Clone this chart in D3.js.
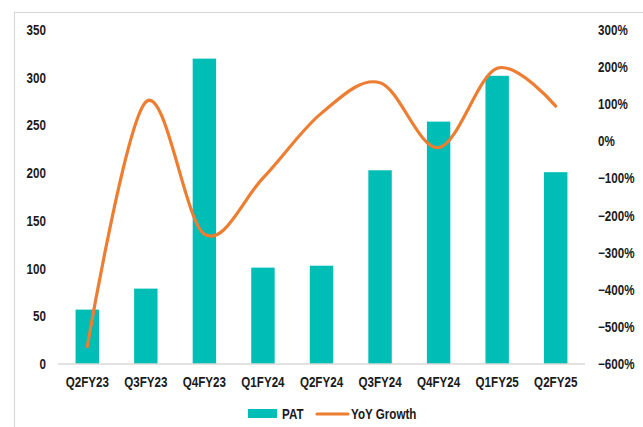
<!DOCTYPE html>
<html>
<head>
<meta charset="utf-8">
<script src="https://cdn.jsdelivr.net/npm/d3@7"></script>
<style>
  html, body { margin: 0; padding: 0; background: #fff; }
  svg { display: block; }
  text { font-family: "Liberation Sans", Arial, sans-serif; font-weight: bold; fill: #1a1a1a; }
</style>
</head>
<body>
<svg id="chart" width="643" height="427"></svg>
<script>
const categories = ["Q2FY23","Q3FY23","Q4FY23","Q1FY24","Q2FY24","Q3FY24","Q4FY24","Q1FY25","Q2FY25"];
const patValues = [57, 79, 320, 101, 103, 203, 254, 302, 201];
const yoyGrowth = [-5.53, 1.06, -2.50, -0.99, 0.76, 1.58, -0.17, 1.97, 0.95];
const leftTicks = [0, 50, 100, 150, 200, 250, 300, 350];
const rightTicks = [-6, -5, -4, -3, -2, -1, 0, 1, 2, 3];
const seriesNames = ["PAT", "YoY Growth"];

const svg = d3.select("#chart");
const teal = "#00BDB6";
const orange = "#ED7D31";
const SX = 0.83;

// frame
svg.append("rect").attr("x", 14.5).attr("y", 12.5).attr("width", 640).attr("height", 430)
  .attr("fill", "none").attr("stroke", "#d9d9d9").attr("stroke-width", 1.2);

const x = d3.scaleBand().domain(categories).range([58, 585]).paddingInner(0.6).paddingOuter(0.3);
const yL = d3.scaleLinear().domain([0, 350]).range([364, 30]);
const yR = d3.scaleLinear().domain([-6, 3]).range([364, 30]);

// bars
svg.append("g").selectAll("rect").data(categories).join("rect")
  .attr("x", (d) => x(d))
  .attr("y", (d, i) => yL(patValues[i]))
  .attr("width", x.bandwidth())
  .attr("height", (d, i) => yL(0) - yL(patValues[i]))
  .attr("fill", teal);

// baseline
svg.append("line").attr("x1", 58).attr("x2", 585).attr("y1", 364).attr("y2", 364)
  .attr("stroke", "#d9d9d9").attr("stroke-width", 1.5);

// line
const line = d3.line()
  .x((d, i) => x(categories[i]) + x.bandwidth() / 2)
  .y((d) => yR(d))
  .curve(d3.curveCardinal.tension(0));
svg.append("path").datum(yoyGrowth).attr("d", line)
  .attr("fill", "none").attr("stroke", orange).attr("stroke-width", 3.2)
  .attr("stroke-linecap", "round").attr("stroke-linejoin", "round");

function styleAxis(g, dx, anchor) {
  g.select(".domain").remove();
  g.selectAll(".tick line").remove();
  g.selectAll(".tick text")
    .attr("x", 0)
    .attr("transform", `translate(${dx},0) scale(${SX},1)`)
    .attr("text-anchor", anchor)
    .style("font-size", "14px")
    .style("font-family", "'Liberation Sans', Arial, sans-serif")
    .style("font-weight", "bold")
    .attr("fill", "#1a1a1a");
}

// left axis
svg.append("g").attr("transform", "translate(58,0)")
  .call(d3.axisLeft(yL).tickValues(leftTicks).tickSize(0).tickFormat(d3.format("d")))
  .call((g) => styleAxis(g, -12, "end"));

// right axis
svg.append("g").attr("transform", "translate(585,0)")
  .call(d3.axisRight(yR).tickValues(rightTicks).tickSize(0).tickFormat((d) => d3.format(".0f")(d * 100) + "%"))
  .call((g) => styleAxis(g, 13, "start"));

// x axis
const xa = svg.append("g").attr("transform", "translate(0,364)")
  .call(d3.axisBottom(x).tickSize(0));
xa.select(".domain").remove();
xa.selectAll(".tick text")
  .attr("y", 0).attr("dy", 0)
  .attr("transform", `translate(0,23) scale(${SX},1)`)
  .style("font-size", "14px")
  .style("font-family", "'Liberation Sans', Arial, sans-serif")
  .style("font-weight", "bold")
  .attr("fill", "#1a1a1a");

// legend
const lg = svg.append("g");
lg.append("rect").attr("x", 248).attr("y", 409).attr("width", 29).attr("height", 9).attr("fill", teal);
lg.append("text").attr("transform", `translate(282,418.5) scale(${SX},1)`).style("font-size", "14px").text(seriesNames[0]);
lg.append("line").attr("x1", 317).attr("x2", 348).attr("y1", 414).attr("y2", 414)
  .attr("stroke", orange).attr("stroke-width", 3.2).attr("stroke-linecap", "round");
lg.append("text").attr("transform", `translate(351,418.5) scale(${SX},1)`).style("font-size", "14px").text(seriesNames[1]);
</script>
</body>
</html>
